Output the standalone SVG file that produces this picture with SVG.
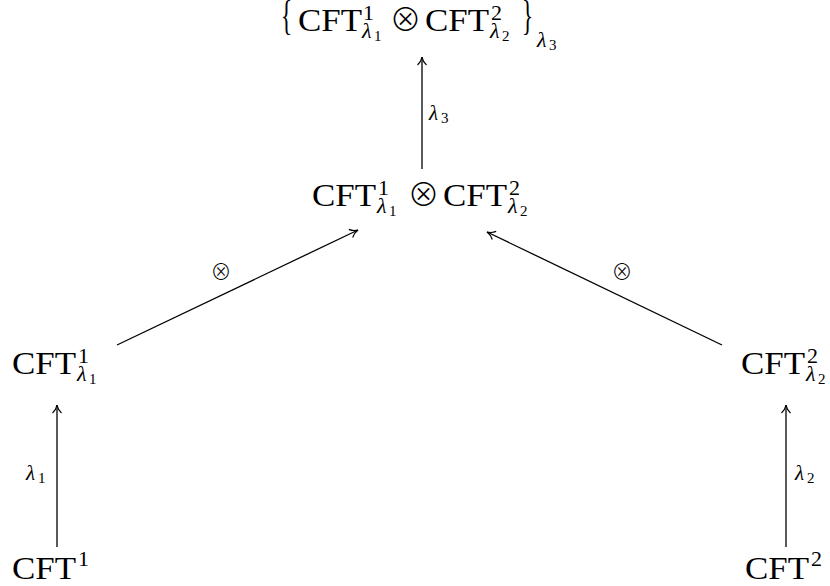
<svg xmlns="http://www.w3.org/2000/svg" width="830" height="586" viewBox="0 0 830 586">
<defs>
<style>
text{font-family:"Liberation Serif","DejaVu Serif",serif;fill:#000}
.m{font-size:32px}
.s{font-size:22px}
.ss{font-size:15px}
.i{font-style:italic}
.l{font-size:21px}
.o{font-family:"Noto Sans CJK SC","DejaVu Sans",sans-serif;font-weight:300;text-anchor:middle}
.e{stroke:#000;stroke-width:1.3;fill:none}
</style>
<marker id="ah" viewBox="0 0 12 12" refX="10" refY="6" markerWidth="12" markerHeight="12" markerUnits="userSpaceOnUse" orient="auto">
<path d="M2,1.5 Q5,5 10,6 Q5,7 2,10.5" fill="none" stroke="#000" stroke-width="1.2"/>
</marker>
</defs>
<g id="connectors">
<line class="e" x1="422" y1="169" x2="422" y2="57" marker-end="url(#ah)"/>
<line class="e" x1="117" y1="345" x2="358" y2="230" marker-end="url(#ah)"/>
<line class="e" x1="722" y1="345" x2="487" y2="232" marker-end="url(#ah)"/>
<line class="e" x1="57" y1="547" x2="57" y2="405" marker-end="url(#ah)"/>
<line class="e" x1="786" y1="547" x2="786" y2="405" marker-end="url(#ah)"/>
<text class="l i" x="429" y="120">λ</text><text class="ss" x="441" y="123">3</text>
<text class="l o" x="221" y="279">⊗</text>
<text class="l o" x="622" y="279">⊗</text>
<text class="l i" x="26" y="480">λ</text><text class="ss" x="38" y="483">1</text>
<text class="l i" x="795" y="480">λ</text><text class="ss" x="807" y="483">2</text>
</g>
<g id="top">
<text class="m" transform="translate(281,28.5) scale(0.72,1.35)">{</text>
<text class="m" x="298" y="31" textLength="64" lengthAdjust="spacingAndGlyphs">CFT</text>
<text class="s" x="363" y="20">1</text>
<text class="s i" x="362" y="38">λ</text><text class="ss" x="374" y="41">1</text>
<text class="m o" x="405.5" y="31" font-size="28">⊗</text>
<text class="m" x="425" y="31" textLength="64" lengthAdjust="spacingAndGlyphs">CFT</text>
<text class="s" x="491" y="20">2</text>
<text class="s i" x="490" y="38">λ</text><text class="ss" x="502" y="41">2</text>
<text class="m" transform="translate(522,28.5) scale(0.72,1.35)">}</text>
<text class="s i" x="537" y="47">λ</text><text class="ss" x="549" y="50">3</text>
</g>
<g id="mid">
<text class="m" x="312" y="206" textLength="64" lengthAdjust="spacingAndGlyphs">CFT</text>
<text class="s" x="378" y="195">1</text>
<text class="s i" x="377" y="213">λ</text><text class="ss" x="389" y="216">1</text>
<text class="m o" x="423.5" y="206" font-size="28">⊗</text>
<text class="m" x="443" y="206" textLength="64" lengthAdjust="spacingAndGlyphs">CFT</text>
<text class="s" x="509" y="195">2</text>
<text class="s i" x="508" y="213">λ</text><text class="ss" x="520" y="216">2</text>
</g>
<g id="left">
<text class="m" x="12" y="374" textLength="64" lengthAdjust="spacingAndGlyphs">CFT</text>
<text class="s" x="78" y="363">1</text>
<text class="s i" x="77" y="381">λ</text><text class="ss" x="89" y="384">1</text>
</g>
<g id="right">
<text class="m" x="741" y="374" textLength="64" lengthAdjust="spacingAndGlyphs">CFT</text>
<text class="s" x="807" y="363">2</text>
<text class="s i" x="806" y="381">λ</text><text class="ss" x="818" y="384">2</text>
</g>
<g id="bl">
<text class="m" x="12" y="579" textLength="64" lengthAdjust="spacingAndGlyphs">CFT</text>
<text class="s" x="78" y="566">1</text>
</g>
<g id="br">
<text class="m" x="745" y="579" textLength="64" lengthAdjust="spacingAndGlyphs">CFT</text>
<text class="s" x="811" y="566">2</text>
</g>
</svg>
